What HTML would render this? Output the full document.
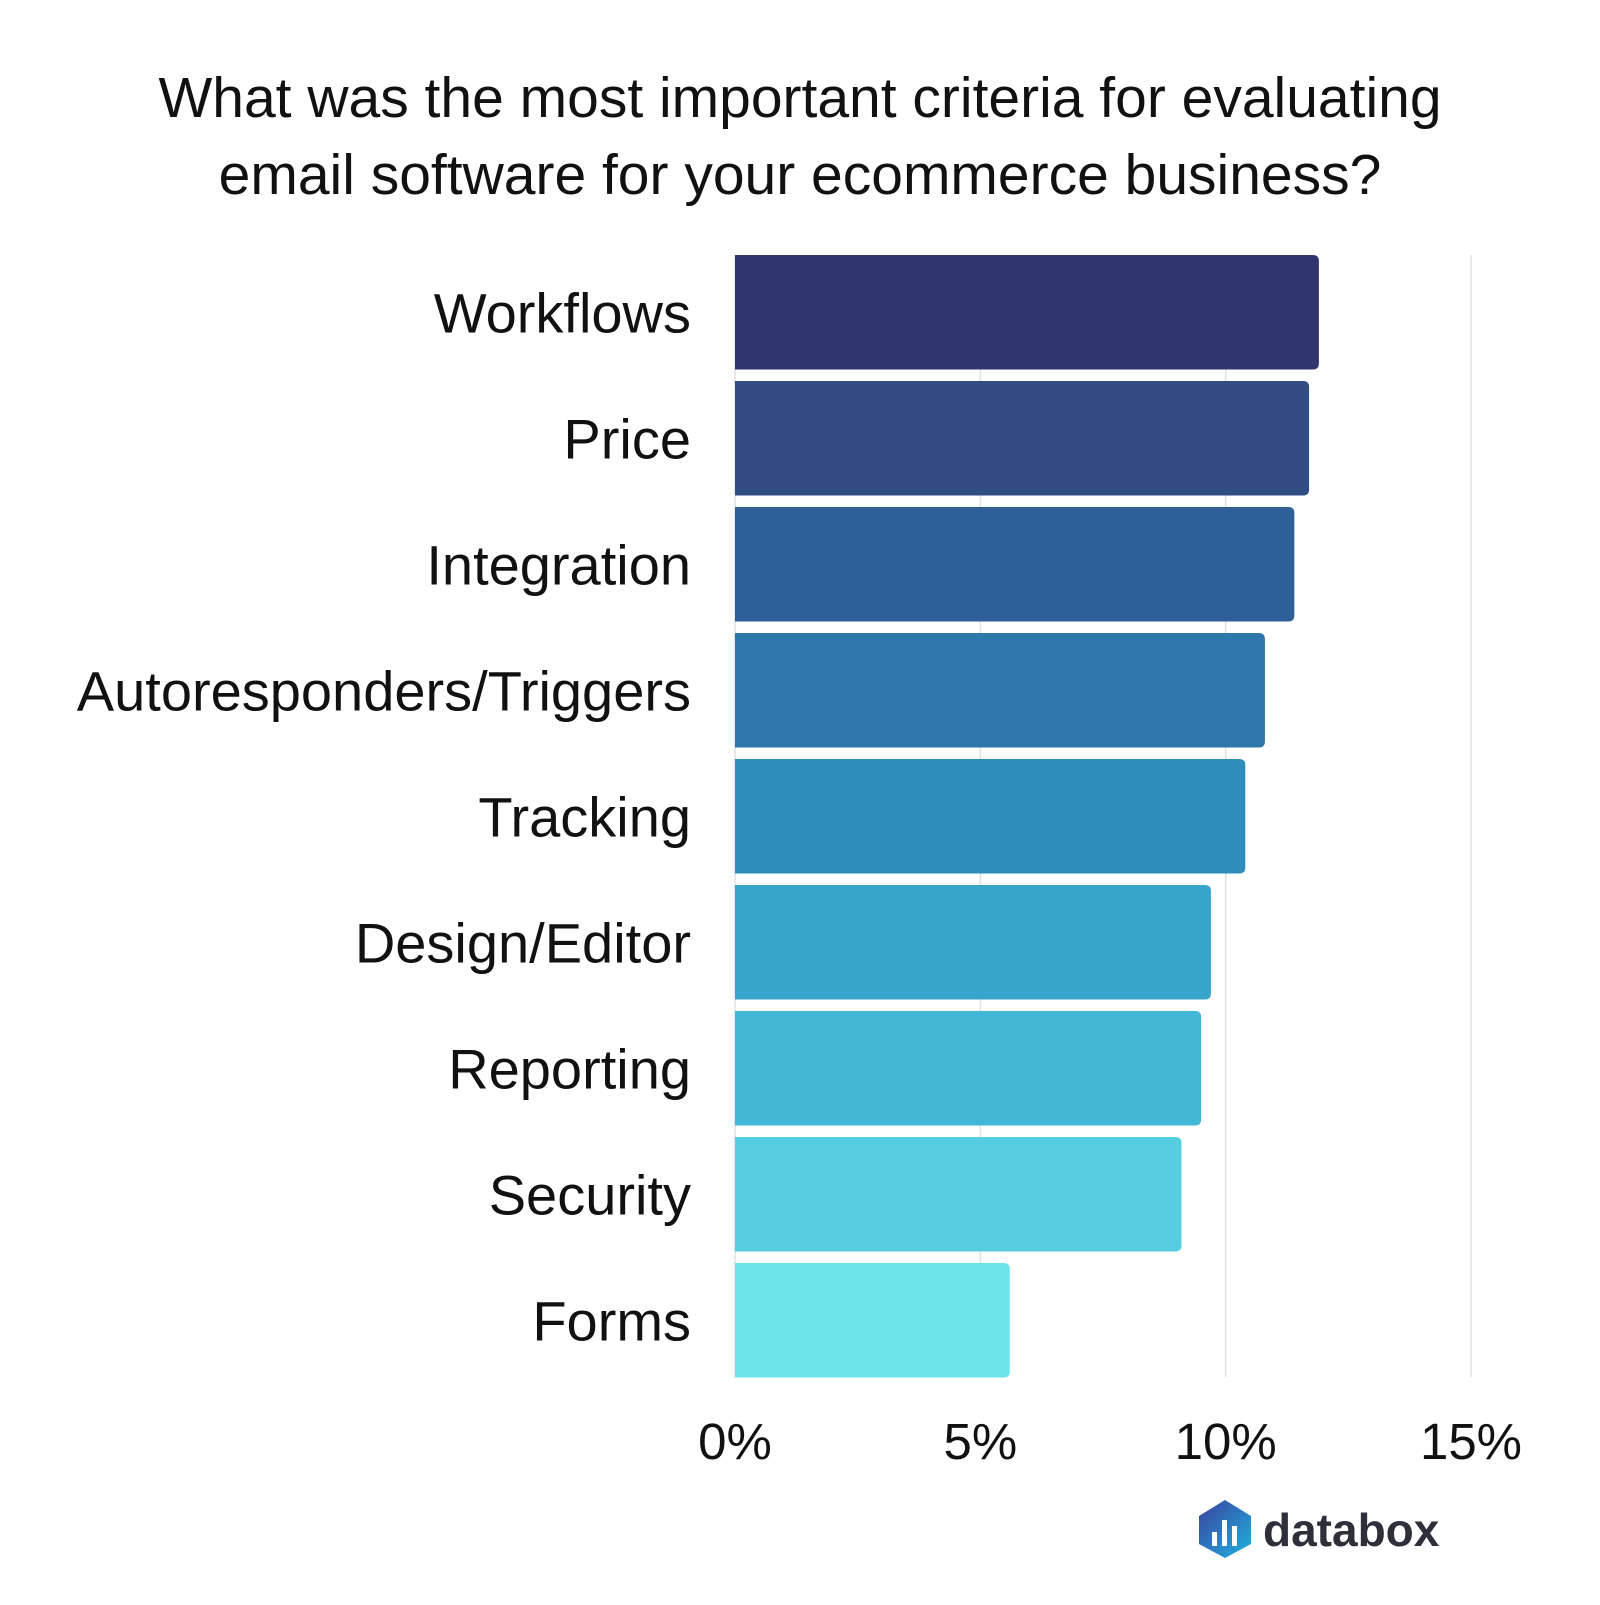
<!DOCTYPE html>
<html><head><meta charset="utf-8"><style>
body{margin:0;background:#fff;width:1600px;height:1600px;overflow:hidden;font-family:"Liberation Sans",sans-serif}
</style></head><body>
<svg width="1600" height="1600" viewBox="0 0 1600 1600" id="chart">
<text x="800" y="117" text-anchor="middle" font-size="57" fill="#111">What was the most important criteria for evaluating</text>
<text x="800" y="194" text-anchor="middle" font-size="57" fill="#111">email software for your ecommerce business?</text>
<g id="grid"></g><g id="bars"></g><g id="labels"></g><g id="ticks"></g>
<g transform="translate(1199,1500)">
<defs><linearGradient id="lg" x1="0" y1="0" x2="1" y2="1"><stop offset="0" stop-color="#3b3f9e"/><stop offset="1" stop-color="#1fb3e0"/></linearGradient></defs>
<polygon points="26,0 52,16 52,44 26,58 0,44 0,16" fill="url(#lg)"/>
<rect x="13" y="32" width="5" height="14" fill="#fff"/><rect x="23" y="20" width="5" height="26" fill="#fff"/><rect x="33" y="26" width="5" height="20" fill="#fff"/>
<text x="64" y="46" font-size="46" font-weight="bold" fill="#2e3039">databox</text>
</g>
</svg>
<script>
const categories=["Workflows","Price","Integration","Autoresponders/Triggers","Tracking","Design/Editor","Reporting","Security","Forms"];
const values=[11.9,11.7,11.4,10.8,10.4,9.7,9.5,9.1,5.6];
const colors=["#31356e","#324d83","#2f5f98","#2e77ab","#2e8dbb","#37a4ca","#42b7d6","#55cfe0","#6ce5e8"];
const tickValues=[0,5,10,15];
const tickLabels=["0%","5%","10%","15%"];
const NS="http://www.w3.org/2000/svg";
const x0=735,x1=1471,maxV=15,plotTop=255,pitch=126,bh=114.5;
const xs=v=>x0+(x1-x0)*v/maxV;
const ys=i=>plotTop+i*pitch;
const plotBottom=ys(categories.length-1)+bh;
function mk(t,a,p){const e=document.createElementNS(NS,t);for(const k in a)e.setAttribute(k,a[k]);p.appendChild(e);return e;}
const G=document.getElementById('grid'),B=document.getElementById('bars'),L=document.getElementById('labels'),T=document.getElementById('ticks');
tickValues.forEach((v,i)=>{
 const l=mk('line',{x1:xs(v),x2:xs(v),y1:plotTop,y2:plotBottom,stroke:'#e0e0e0','stroke-width':1.5},G);
 
 
 const t=mk('text',{x:xs(v),y:1459,'text-anchor':'middle','font-size':51,fill:'#111'},T);
 t.textContent=tickLabels[i];
 
 
});
categories.forEach((c,i)=>{
 const w=xs(values[i])-x0,y=ys(i),r=6;
 const p=mk('path',{d:`M${x0},${y}H${x0+w-r}Q${x0+w},${y} ${x0+w},${y+r}V${y+bh-r}Q${x0+w},${y+bh} ${x0+w-r},${y+bh}H${x0}Z`,fill:colors[i]},B);
 
 
 const t=mk('text',{x:691,y:y+bh/2+20,'text-anchor':'end','font-size':56,fill:'#111'},L);
 t.textContent=c;
 
 
});
</script>
</body></html>
